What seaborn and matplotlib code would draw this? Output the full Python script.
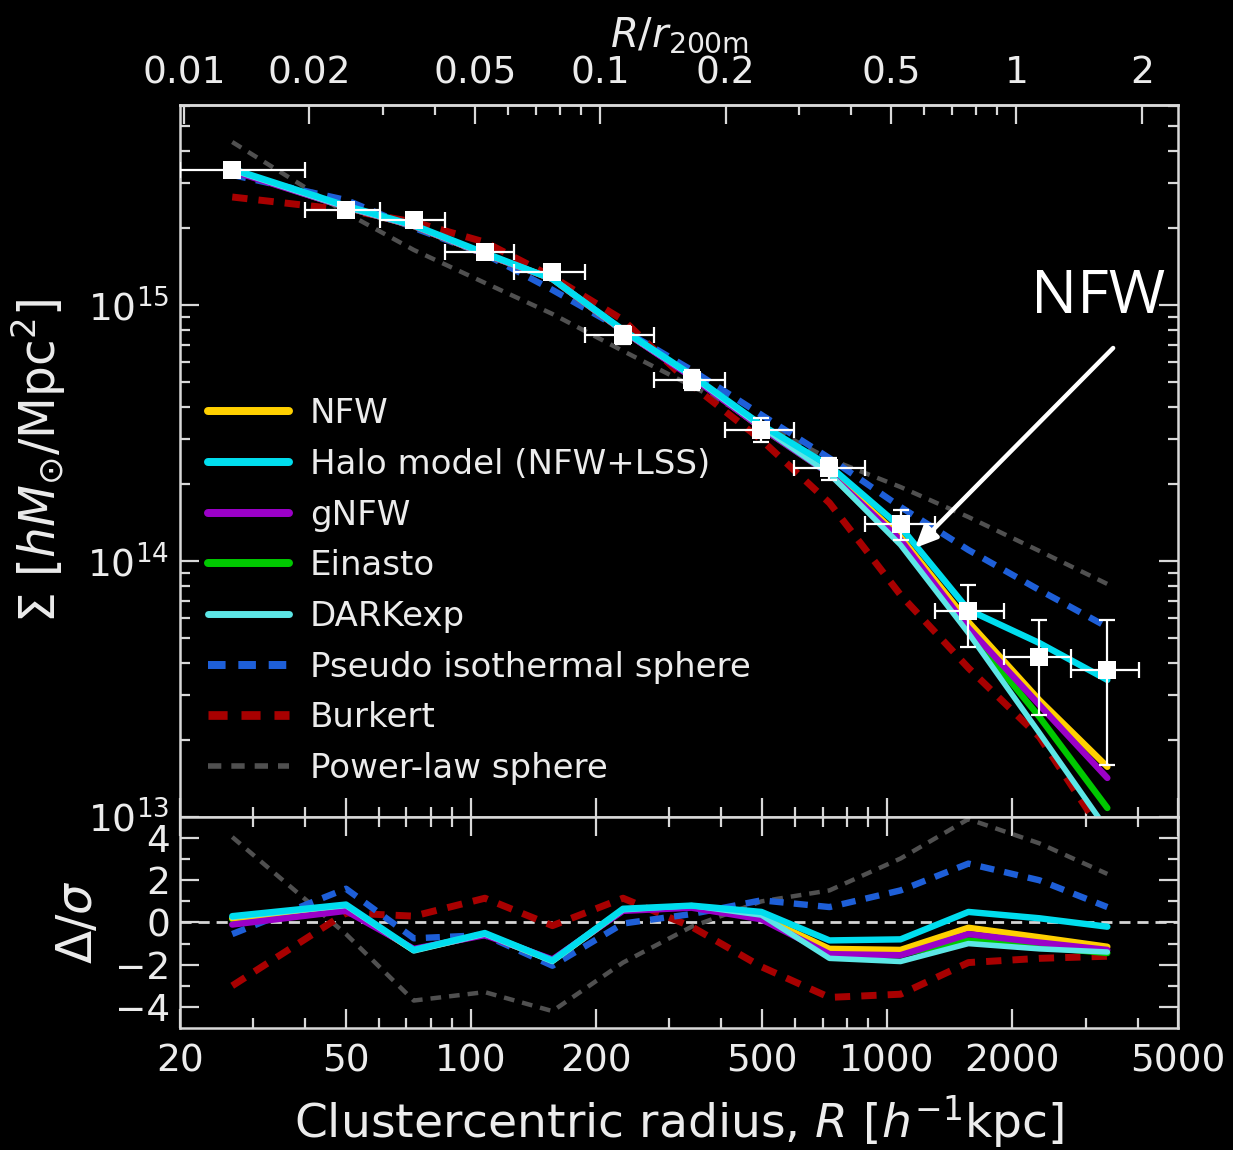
import numpy as np
import pandas as pd
import matplotlib
matplotlib.use("Agg")
import matplotlib.pyplot as plt
import seaborn as sns
from matplotlib.lines import Line2D
from matplotlib.ticker import FixedLocator, FixedFormatter, NullFormatter, LogLocator

# ---------------- data ----------------
r200m = 2045.0  # h^-1 kpc, sets the top axis R/r200m

radius = [26.7, 50.1, 72.9, 108, 157, 232, 339, 499, 727, 1077, 1568, 2322, 3382]
radius_lo = [20.0, 39.9, 60.4, 86.6, 127, 188, 276, 407, 599, 883, 1300, 1914, 2772]
radius_hi = [39.9, 60.4, 86.6, 127, 188, 276, 407, 599, 883, 1300, 1914, 2772, 4036]

# surface density in units of 1e14 h Msun / Mpc^2
sigma_obs = [33.67, 23.5, 21.5, 16.1, 13.45, 7.64, 5.09, 3.25, 2.31, 1.395, 0.638, 0.422, 0.375]
sigma_obs_hi = [34.9, 24.6, 22.5, 17.0, 14.33, 8.28, 5.57, 3.62, 2.52, 1.582, 0.806, 0.588, 0.588]
sigma_obs_lo = [32.5, 22.47, 20.5, 15.26, 12.63, 7.04, 4.66, 2.92, 2.07, 1.208, 0.461, 0.250, 0.1596]

model_nfw = [33.67, 24.1, 20.35, 15.8, 12.63, 7.91, 5.28, 3.31, 2.23, 1.241, 0.578, 0.286, 0.157]
model_halo = [33.98, 24.4, 20.5, 15.96, 12.63, 7.99, 5.33, 3.40, 2.35, 1.358, 0.644, 0.478, 0.343]
model_gnfw = [33.37, 24.1, 20.35, 15.8, 12.63, 7.91, 5.23, 3.31, 2.19, 1.208, 0.547, 0.274, 0.142]
model_einasto = [33.67, 24.1, 20.35, 15.8, 12.63, 7.91, 5.28, 3.31, 2.19, 1.186, 0.538, 0.246, 0.1084]
model_darkexp = [33.67, 24.1, 20.35, 15.8, 12.63, 7.91, 5.28, 3.34, 2.19, 1.155, 0.523, 0.213, 0.0889]
model_piso = [32.2, 25.7, 20.0, 15.8, 11.45, 7.99, 5.57, 3.72, 2.52, 1.625, 1.104, 0.770, 0.552]
model_burkert = [26.4, 23.5, 21.1, 17.6, 12.87, 8.74, 4.87, 2.97, 1.685, 0.737, 0.382, 0.2055, 0.0813]
model_powerlaw = [43.3, 22.9, 16.4, 12.2, 9.22, 6.61, 4.83, 3.46, 2.50, 1.945, 1.485, 1.094, 0.813]

# residuals Delta / sigma
res_nfw = [0.2, 0.7, -1.3, -0.55, -1.8, 0.6, 0.75, 0.25, -1.25, -1.3, -0.25, -0.7, -1.15]
res_halo = [0.3, 0.85, -1.3, -0.5, -1.8, 0.65, 0.8, 0.5, -0.85, -0.8, 0.5, 0.2, -0.2]
res_gnfw = [-0.1, 0.55, -1.25, -0.6, -1.75, 0.55, 0.7, 0.15, -1.5, -1.55, -0.55, -0.95, -1.3]
res_einasto = [0.15, 0.7, -1.3, -0.55, -1.8, 0.6, 0.75, 0.2, -1.4, -1.5, -0.85, -1.15, -1.45]
res_darkexp = [0.25, 0.8, -1.35, -0.55, -1.85, 0.6, 0.8, 0.35, -1.7, -1.85, -1.0, -1.25, -1.4]
res_piso = [-0.55, 1.6, -0.75, -0.6, -2.05, -0.05, 0.4, 1.05, 0.73, 1.52, 2.79, 2.0, 0.73]
res_burkert = [-3.0, 0.45, 0.3, 1.15, -0.15, 1.15, -0.2, -2.1, -3.55, -3.4, -1.9, -1.7, -1.6]
res_powerlaw = [4.05, -0.55, -3.7, -3.3, -4.2, -1.9, -0.2, 1.0, 1.52, 3.03, 4.9, 3.75, 2.3]

top_ticks = [0.01, 0.02, 0.05, 0.1, 0.2, 0.5, 1, 2]
top_tick_labels = ["0.01", "0.02", "0.05", "0.1", "0.2", "0.5", "1", "2"]
bottom_ticks = [20, 50, 100, 200, 500, 1000, 2000, 5000]
bottom_tick_labels = ["20", "50", "100", "200", "500", "1000", "2000", "5000"]
res_ticks = [-4, -2, 0, 2, 4]
res_tick_labels = ["\u22124", "\u22122", "0", "2", "4"]

models = [
    ("NFW", model_nfw, res_nfw, "#FFD000", "-", 4.6, 5),
    ("Halo model (NFW+LSS)", model_halo, res_halo, "#00DDEE", "-", 4.6, 9),
    ("gNFW", model_gnfw, res_gnfw, "#9B00C8", "-", 4.6, 6),
    ("Einasto", model_einasto, res_einasto, "#00C800", "-", 4.6, 4),
    ("DARKexp", model_darkexp, res_darkexp, "#5CE6E6", "-", 4.0, 7),
    ("Pseudo isothermal sphere", model_piso, res_piso, "#1E5FD8", (0, (2.2, 1.6)), 4.6, 3),
    ("Burkert", model_burkert, res_burkert, "#A80000", (0, (2.2, 1.6)), 5.0, 2),
    ("Power-law sphere", model_powerlaw, res_powerlaw, "#505050", (0, (2.4, 1.8)), 3.2, 1),
]

# ---------------- style ----------------
sns.set_theme(style="ticks")
fg = "#ececec"
plt.rcParams.update({
    "figure.facecolor": "black",
    "axes.facecolor": "black",
    "savefig.facecolor": "black",
    "axes.edgecolor": "#d9d9d9",
    "axes.labelcolor": fg,
    "text.color": fg,
    "xtick.color": "#d9d9d9",
    "ytick.color": "#d9d9d9",
    "xtick.labelcolor": fg,
    "ytick.labelcolor": fg,
    "axes.linewidth": 1.8,
    "mathtext.fontset": "dejavusans",
})
plt.rcParams["font.family"] = ["DejaVu Sans"]

TICK_FS = 27

fig = plt.figure(figsize=(12.33, 11.5), dpi=100)
ax = fig.add_axes([0.1460, 0.2896, 0.8094, 0.6191])
ax2 = fig.add_axes([0.1460, 0.1061, 0.8094, 0.1835], sharex=ax)

R = np.array(radius, dtype=float)

# ---------------- model curves (main panel + residuals) ----------------
for name, vals, res, col, ls, lw, z in models:
    sns.lineplot(x=R, y=np.array(vals) * 1e14, ax=ax, color=col, linestyle=ls,
                 linewidth=lw, zorder=z, estimator=None, sort=False, legend=False)
    sns.lineplot(x=R, y=np.array(res), ax=ax2, color=col, linestyle=ls,
                 linewidth=lw, zorder=z, estimator=None, sort=False, legend=False)

# ---------------- data points ----------------
obs = np.array(sigma_obs) * 1e14
yerr = np.vstack([obs - np.array(sigma_obs_lo) * 1e14, np.array(sigma_obs_hi) * 1e14 - obs])
xerr = np.vstack([R - np.array(radius_lo), np.array(radius_hi) - R])
ax.errorbar(R, obs, yerr=yerr, xerr=xerr, fmt="none", ecolor="white",
            elinewidth=1.6, capsize=6, capthick=1.6, zorder=10)
sns.scatterplot(x=R, y=obs, ax=ax, marker="s", s=150, color="white",
                edgecolor="white", linewidth=0, zorder=11, legend=False)

ax.set_xscale("log")
ax.set_yscale("log")
ax.set_xlim(20, 5000)
ax.set_ylim(1e13, 6.04e15)

# legend
leg_handles = [Line2D([0], [0], color=c, linestyle=ls, linewidth=lw * 1.25)
               for (n, v, r, c, ls, lw, z) in models]
leg = ax.legend(leg_handles, [m[0] for m in models], loc="upper left",
                bbox_to_anchor=(0.004, 0.623), frameon=False, fontsize=24.5,
                handlelength=2.4, handletextpad=0.6, labelspacing=0.52,
                borderaxespad=0.3)
for t in leg.get_texts():
    t.set_color(fg)

# NFW annotation arrow
ax.annotate("", xy=(0.7365, 0.3778), xytext=(0.935, 0.6587), xycoords="axes fraction",
            textcoords="axes fraction",
            arrowprops=dict(arrowstyle="-|>,head_length=1.1,head_width=0.5",
                            color="white", lw=3.2, shrinkA=0, shrinkB=0), zorder=20)
ax.text(0.92, 0.73, "NFW", transform=ax.transAxes, ha="center", va="center",
        fontsize=44, color="white", family=["Open Sans", "DejaVu Sans"], zorder=20)

ax.set_ylabel(r"$\Sigma\ [hM_{\odot}/\mathrm{Mpc}^2]$", fontsize=35)
ax.yaxis.set_label_coords(-0.112, 0.5)
ax.tick_params(axis="both", which="both", direction="in", top=False, right=True,
               labelbottom=False, labelsize=TICK_FS, width=1.6)
ax.tick_params(axis="both", which="major", length=14, pad=8)
ax.tick_params(axis="both", which="minor", length=7)
ax.xaxis.set_major_locator(FixedLocator(bottom_ticks))
ax.xaxis.set_minor_locator(LogLocator(base=10, subs=np.arange(2, 10)))
ax.xaxis.set_minor_formatter(NullFormatter())
ax.yaxis.set_minor_locator(LogLocator(base=10, subs=np.arange(2, 10), numticks=20))
ax.yaxis.set_minor_formatter(NullFormatter())

# top axis R/r200m
sec = ax.secondary_xaxis("top", functions=(lambda r: r / r200m, lambda q: q * r200m))
sec.xaxis.set_major_locator(FixedLocator(top_ticks))
sec.xaxis.set_major_formatter(FixedFormatter(top_tick_labels))
sec.xaxis.set_minor_locator(LogLocator(base=10, subs=np.arange(2, 10), numticks=20))
sec.xaxis.set_minor_formatter(NullFormatter())
sec.tick_params(axis="x", which="both", direction="in", labelsize=TICK_FS, width=1.6,
                colors="#d9d9d9", labelcolor=fg)
sec.tick_params(axis="x", which="major", length=14, pad=10)
sec.tick_params(axis="x", which="minor", length=7)
sec.set_xlabel(r"$R/r_{\mathrm{200m}}$", fontsize=29, color=fg, labelpad=6)

# ---------------- residual panel ----------------
ax2.axhline(0, color="#d5d5d5", linestyle=(0, (4, 2.5)), linewidth=2.0, zorder=0.5)
ax2.set_ylim(-5, 5)
ax2.yaxis.set_major_locator(FixedLocator(res_ticks))
ax2.yaxis.set_major_formatter(FixedFormatter(res_tick_labels))
ax2.yaxis.set_minor_locator(FixedLocator([-3, -1, 1, 3]))
ax2.xaxis.set_major_locator(FixedLocator(bottom_ticks))
ax2.xaxis.set_major_formatter(FixedFormatter(bottom_tick_labels))
ax2.xaxis.set_minor_locator(LogLocator(base=10, subs=np.arange(2, 10)))
ax2.xaxis.set_minor_formatter(NullFormatter())
ax2.set_xlim(20, 5000)
ax2.tick_params(axis="both", which="both", direction="in", top=True, right=True,
                labelsize=TICK_FS, width=1.6)
ax2.tick_params(axis="both", which="major", length=14, pad=7)
ax2.tick_params(axis="both", which="minor", length=7)
ax2.tick_params(axis="x", which="major", pad=11)
ax2.set_ylabel(r"$\Delta/\sigma$", fontsize=35)
ax2.yaxis.set_label_coords(-0.078, 0.5)
ax2.set_xlabel(r"Clustercentric radius, $R$ [$h^{-1}$kpc]", fontsize=34)
ax2.xaxis.set_label_coords(0.5, -0.31)

fig.savefig("out.png", dpi=100, facecolor="black")
